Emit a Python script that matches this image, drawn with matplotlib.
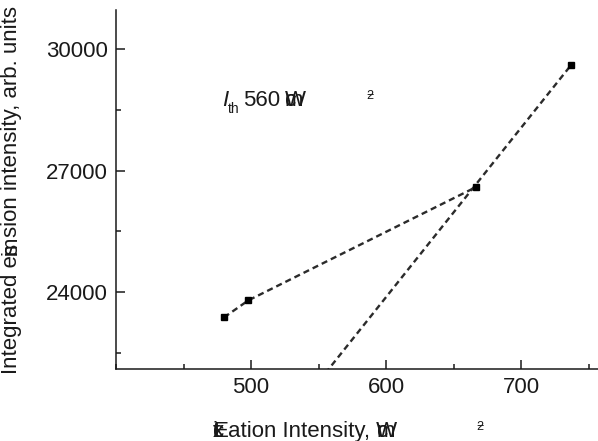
import matplotlib.pyplot as plt
from matplotlib.ticker import MultipleLocator

# measured points
excitation = [480, 498, 667, 737]
emission = [23380, 23800, 26600, 29600]

# the two dashed guide lines
low_x = [480, 498, 667]
low_y = [23380, 23800, 26600]
high_x = [555, 737]
high_y = [22000, 29600]

x_ticks = [500, 600, 700]
y_ticks = [24000, 27000, 30000]

W, H = 598, 441
ink = '#1a1a1a'

plt.rcParams.update({'font.family': ['Liberation Sans', 'DejaVu Sans'],
                     'font.size': 16})

fig = plt.figure(figsize=(W / 100, H / 100), dpi=100)
ax = fig.add_axes([116 / W, 72 / H, 486 / W, 359 / H])
ax.spines[['right', 'top']].set_visible(False)
for s in ['left', 'bottom']:
    ax.spines[s].set_linewidth(1.1)
    ax.spines[s].set_color(ink)

dash = (0, (2.6, 1.7))
ax.plot(low_x, low_y, color='#2b2b2b', lw=1.7, linestyle=dash)
ax.plot(high_x, high_y, color='#2b2b2b', lw=1.7, linestyle=dash)
ax.plot(excitation, emission, 's', color='black', ms=4.5, ls='none')

ax.set_xlim(400, 760)
ax.set_ylim(22108, 30962)
ax.set_xticks(x_ticks)
ax.set_yticks(y_ticks)
ax.xaxis.set_minor_locator(MultipleLocator(50))
ax.yaxis.set_minor_locator(MultipleLocator(1500))
ax.tick_params(which='major', direction='in', length=6.5, width=1.1,
               color=ink, labelcolor=ink, labelsize=16, pad=6)
ax.tick_params(which='minor', direction='in', length=3.5, width=1.1, color=ink)

renderer = fig.canvas.get_renderer()


def put(x, y, s, **kw):
    # x, y in pixels from the top-left corner, y at the baseline
    return fig.text(x / W, 1 - y / H, s, va='baseline', color=ink,
                    rotation_mode='anchor', **kw)


def stacked(x, y, chars, **kw):
    # glyphs drawn on top of each other, as in the original figure
    for c in chars:
        put(x, y, c, **kw)


def width(s, **kw):
    t = fig.text(0, 0, s, **kw)
    w = t.get_window_extent(renderer).width
    t.remove()
    return w


# y-axis label, written upwards, with the squashed glyphs of the original
ylabel_parts = ['Integrated e', ('m', 'i', 's'), 'sion intensity, arb. units']
ysize = 16
widths = [max(width(c, fontsize=ysize) for c in p) if isinstance(p, tuple)
          else width(p, fontsize=ysize) for p in ylabel_parts]
ypos = 190 + sum(widths) / 2
for part, w in zip(ylabel_parts, widths):
    if isinstance(part, tuple):
        stacked(17, ypos, part, rotation=90, fontsize=ysize)
    else:
        put(17, ypos, part, rotation=90, fontsize=ysize)
    ypos -= w

# x-axis label
stacked(213, 437, 'Excit')
put(228, 437, 'ation Intensity, W')
stacked(377, 437, 'cm')
stacked(476, 430, '\u22122', fontsize=9)

# threshold note
put(222, 106, 'I', fontstyle='italic')
put(228, 113, 'th', fontsize=10)
put(243, 106, '560')
stacked(285, 106, 'Wcm')
stacked(366, 99, '\u22122', fontsize=9)

fig.savefig('out.png', dpi=100)
